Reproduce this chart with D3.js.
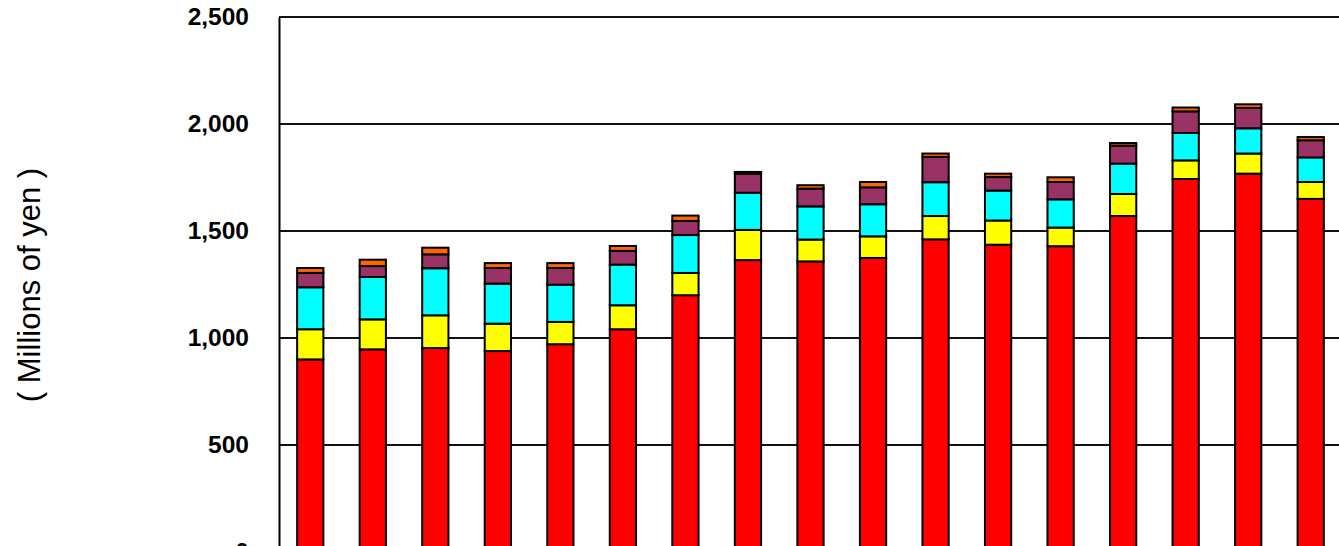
<!DOCTYPE html>
<html>
<head>
<meta charset="utf-8">
<script src="https://cdn.jsdelivr.net/npm/d3@7"></script>
<style>
  body { margin: 0; background: #fff; }
  svg { display: block; }
</style>
</head>
<body>
<div id="chart"></div>
<script>
// values, millions of yen
const categories = ["1", "2", "3", "4", "5", "6", "7", "8", "9", "10", "11", "12", "13", "14", "15", "16", "17"];
const seriesNames = ["s1", "s2", "s3", "s4", "s5"];
const seriesColors = ["#ff0000", "#ffff00", "#00ffff", "#993366", "#ff6600"];
const s1 = [900, 947, 953, 939, 971, 1041, 1200, 1364, 1358, 1374, 1461, 1436, 1429, 1570, 1743, 1768, 1650];
const s2 = [141, 140, 153, 128, 104, 112, 104, 141, 102, 101, 109, 113, 87, 103, 87, 94, 79];
const s3 = [196, 198, 220, 187, 174, 190, 177, 174, 155, 150, 158, 140, 132, 142, 128, 118, 115];
const s4 = [67, 51, 65, 73, 78, 64, 66, 89, 83, 79, 118, 63, 81, 84, 101, 95, 80];
const s5 = [23, 30, 31, 23, 23, 23, 25, 8, 16, 25, 16, 16, 22, 12, 18, 17, 15];
const yTicks = [0, 500, 1000, 1500, 2000, 2500];
const yTitle = "( Millions of yen )";

class stackChart {

    constructor() {
        this.rows = categories.map((c, i) => ({
            cat: c, s1: s1[i], s2: s2[i], s3: s3[i], s4: s4[i], s5: s5[i]
        }));
        this.draw();
    }

    draw () {
        let margin = {top: 17, left: 279};
        let width = 1063;
        let height = 535;

        let svg = d3.select("#chart")
            .append("svg")
            .attr("width", 1339)
            .attr("height", 546);

        let g = svg.append("g")
            .attr("transform", "translate(" + margin.left + "," + margin.top + ")");

        let xScale = d3.scaleBand()
            .domain(categories)
            .range([0, width])
            .paddingInner(0.58)
            .paddingOuter(0.29);

        let yScale = d3.scaleLinear()
            .domain([0, 2500])
            .range([height, 0]);

        // grid lines
        g.append("g")
            .selectAll("line")
            .data(yTicks)
            .join("line")
            .attr("x1", 0)
            .attr("x2", width)
            .attr("y1", d => yScale(d))
            .attr("y2", d => yScale(d))
            .attr("stroke", "#111")
            .attr("stroke-width", 2);

        let stacked = d3.stack().keys(seriesNames)(this.rows);

        g.append("g")
            .selectAll("g")
            .data(stacked)
            .join("g")
            .attr("fill", (d, i) => seriesColors[i])
            .selectAll("rect")
            .data(d => d)
            .join("rect")
            .attr("x", d => xScale(d.data.cat))
            .attr("width", xScale.bandwidth())
            .attr("y", d => yScale(d[1]))
            .attr("height", d => yScale(d[0]) - yScale(d[1]))
            .attr("stroke", "#000")
            .attr("stroke-width", 2);

        let yaxis = g.append("g")
            .call(d3.axisLeft(yScale).tickValues(yTicks).tickSize(0).tickPadding(30)
                .tickFormat(d3.format(",")));

        yaxis.select(".domain")
            .attr("stroke", "#000")
            .attr("stroke-width", 2);

        yaxis.selectAll("text")
            .attr("font-family", "Liberation Sans, Arial, sans-serif")
            .attr("font-size", 24.5)
            .attr("font-weight", "bold")
            .attr("fill", "#000");

        svg.append("text")
            .attr("transform", "translate(40,285) rotate(-90)")
            .attr("text-anchor", "middle")
            .attr("font-family", "Liberation Sans, Arial, sans-serif")
            .attr("font-size", 31)
            .attr("fill", "#000")
            .attr("xml:space", "preserve")
            .text(yTitle);
    }
}

new stackChart();
</script>
</body>
</html>
